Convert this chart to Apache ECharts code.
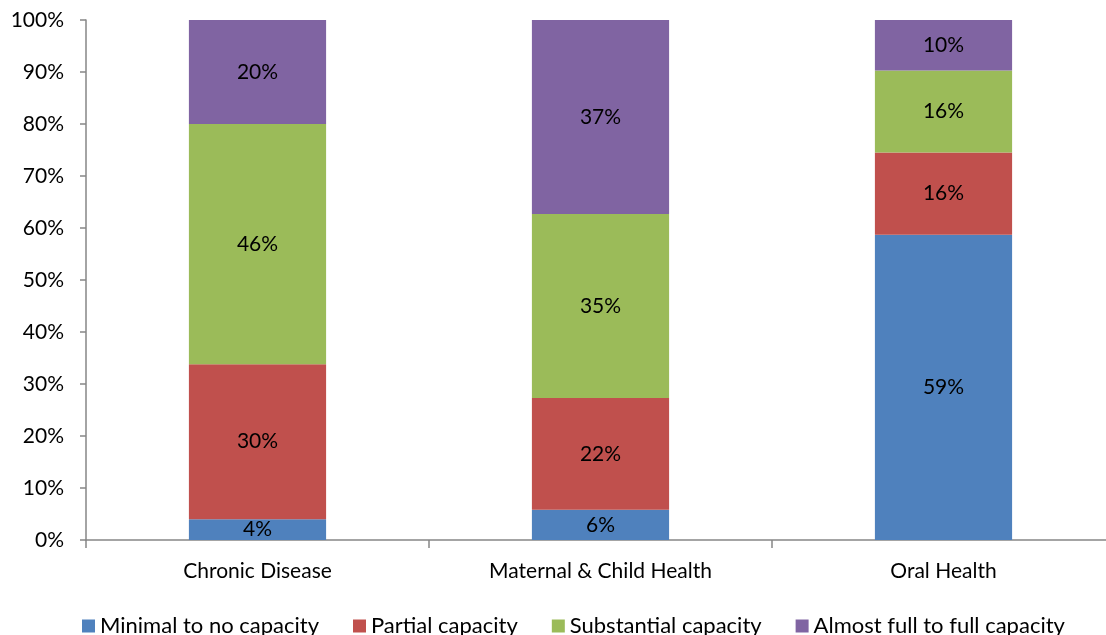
<!DOCTYPE html>
<html>
<head>
<meta charset="utf-8">
<script src="https://cdn.jsdelivr.net/npm/echarts@6/dist/echarts.min.js"></script>
<style>
  html, body { margin: 0; padding: 0; background: #fff; overflow: hidden; }
  /* plot area runs a little past the right edge of the window */
  #chart { width: 1115px; height: 635px; }
</style>
</head>
<body>
<div id="chart"></div>
<script>
// Program areas and capacity levels (share of respondents, %)
const categories = ['Chronic Disease', 'Maternal & Child Health', 'Oral Health'];
const minimalCapacity = [4.0, 5.8, 58.7];
const partialCapacity = [29.8, 21.5, 15.8];
const substantialCapacity = [46.2, 35.4, 15.8];
const fullCapacity = [20.0, 37.3, 9.8];
const seriesNames = ['Minimal to no capacity', 'Partial capacity', 'Substantial capacity', 'Almost full to full capacity'];
const seriesColors = ['#4f81bd', '#c0504d', '#9bbb59', '#8064a2'];

const FONT = 'Lato, "Open Sans", sans-serif';
const chart = echarts.init(document.getElementById('chart'));

const seriesData = [minimalCapacity, partialCapacity, substantialCapacity, fullCapacity];
const series = seriesData.map((values, i) => ({
  name: seriesNames[i],
  type: 'bar',
  stack: 'total',
  barWidth: '40%',
  data: values,
  itemStyle: { color: seriesColors[i] },
  label: {
    show: true,
    position: 'inside',
    color: '#000',
    fontFamily: FONT,
    fontSize: 21,
    formatter: p => Math.round(p.value) + '%'
  }
}));

chart.setOption({
  animation: false,
  textStyle: { fontFamily: FONT },
  grid: { left: 86, top: 20, right: 0, bottom: 95 },
  legend: {
    top: 610,
    left: 77,
    itemWidth: 13,
    itemHeight: 13,
    itemGap: 34,
    icon: 'rect',
    textStyle: { fontFamily: FONT, fontSize: 22, color: '#000' },
    data: seriesNames
  },
  xAxis: {
    type: 'category',
    data: categories,
    axisLine: { lineStyle: { color: '#868686', width: 1.5 } },
    axisTick: { show: true, length: 8, lineStyle: { color: '#868686', width: 1.5 } },
    axisLabel: { color: '#000', fontFamily: FONT, fontSize: 21, margin: 21 }
  },
  yAxis: {
    type: 'value',
    min: 0,
    max: 100,
    interval: 10,
    axisLine: { show: true, lineStyle: { color: '#868686', width: 1.5 } },
    axisTick: { show: true, length: 6, lineStyle: { color: '#868686', width: 1.5 } },
    splitLine: { show: false },
    axisLabel: { color: '#000', fontFamily: FONT, fontSize: 21, margin: 22, formatter: '{value}%' }
  },
  series: series
});
</script>
</body>
</html>
